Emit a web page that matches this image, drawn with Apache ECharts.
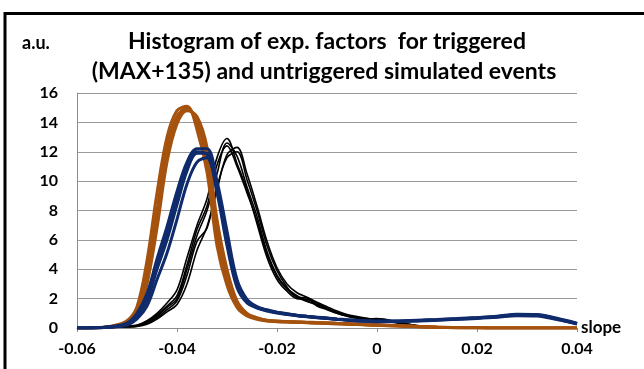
<!DOCTYPE html>
<html>
<head>
<meta charset="utf-8">
<script src="https://cdn.jsdelivr.net/npm/echarts@6/dist/echarts.min.js"></script>
<style>
html,body{margin:0;padding:0;background:#fff;}
#chart{width:644px;height:369px;}
</style>
</head>
<body>
<div id="chart"></div>
<script>
var titleLines = ['Histogram of exp. factors  for triggered', '(MAX+135) and untriggered simulated events'];
var yUnit = 'a.u.';
var xName = 'slope';

var slope = [-0.06, -0.056, -0.053, -0.05, -0.048, -0.046, -0.044, -0.042, -0.04, -0.038, -0.036, -0.034, -0.032, -0.03, -0.028, -0.026, -0.024, -0.022, -0.02, -0.018, -0.016, -0.014, -0.012, -0.01, -0.008, -0.006, -0.004, -0.002, 0, 0.004, 0.008, 0.012, 0.016, 0.02, 0.024, 0.028, 0.032, 0.036, 0.04];

var orange1 = [0,0.02,0.1,0.4,1.1,3.8,8.0,12.3,14.4,15.0,14.0,11.4,6.4,3.4,1.6,0.9,0.65,0.5,0.45,0.42,0.4,0.38,0.35,0.33,0.3,0.28,0.25,0.22,0.2,0.15,0.1,0.05,0.02,0.01,0,0,0,0,0];
var orange2 = [0,0.02,0.07,0.3,0.85,3.0,6.8,11.3,13.9,14.8,14.4,12.3,7.4,4.0,1.85,1.0,0.7,0.53,0.47,0.44,0.42,0.4,0.37,0.35,0.32,0.3,0.27,0.24,0.22,0.17,0.12,0.06,0.03,0.01,0,0,0,0,0];
var orange3 = [0,0.03,0.14,0.5,1.45,4.6,9.2,13.0,14.8,15.1,13.5,10.6,5.6,2.9,1.4,0.82,0.6,0.48,0.43,0.4,0.38,0.36,0.33,0.31,0.28,0.26,0.23,0.2,0.18,0.13,0.08,0.04,0.02,0.01,0,0,0,0,0];
var orange4 = [0,0.02,0.1,0.38,1.0,3.4,7.4,11.8,14.2,14.9,14.2,11.9,6.9,3.7,1.7,0.92,0.66,0.51,0.46,0.42,0.4,0.38,0.35,0.33,0.3,0.28,0.25,0.22,0.2,0.15,0.1,0.05,0.02,0.01,0,0,0,0,0];

var blue1 = [0,0.02,0.08,0.25,0.8,1.9,4.0,6.0,8.4,10.7,11.9,11.9,9.5,6.0,3.0,1.8,1.4,1.2,1.05,0.95,0.85,0.78,0.72,0.66,0.6,0.55,0.5,0.47,0.45,0.46,0.5,0.55,0.62,0.68,0.76,0.88,0.86,0.6,0.3];
var blue2 = [0,0.02,0.1,0.34,1.0,2.35,4.7,6.9,9.3,11.3,12.2,12.2,10.0,6.6,3.3,1.95,1.45,1.24,1.08,0.97,0.87,0.8,0.74,0.68,0.62,0.57,0.53,0.5,0.48,0.48,0.53,0.58,0.64,0.71,0.8,0.94,0.92,0.66,0.33];
var blue3 = [0,0.02,0.06,0.2,0.62,1.5,3.3,5.1,7.4,9.8,11.3,11.6,9.2,5.6,2.75,1.7,1.36,1.16,1.02,0.92,0.83,0.76,0.7,0.64,0.58,0.53,0.48,0.45,0.43,0.44,0.47,0.52,0.59,0.65,0.73,0.84,0.82,0.57,0.27];
var blue4 = [0,0.02,0.08,0.27,0.85,2.05,4.3,6.4,8.8,11.0,12.0,11.8,9.7,6.2,3.1,1.82,1.41,1.2,1.05,0.95,0.85,0.78,0.72,0.66,0.6,0.55,0.51,0.48,0.46,0.46,0.5,0.56,0.62,0.69,0.77,0.9,0.88,0.62,0.3];

var black1 = [0,0.02,0.05,0.1,0.15,0.4,0.8,1.4,2.0,4.0,6.3,8.0,10.5,12.6,11.7,9.6,7.6,5.2,3.6,2.7,2.2,1.85,1.55,1.3,1.05,0.85,0.7,0.6,0.6,0.4,0.15,0.03,0,0,0,0,0,0,0];
var black2 = [0,0.02,0.04,0.07,0.1,0.25,0.6,1.1,1.6,3.0,5.3,6.9,9.4,11.8,12.3,10.5,8.3,5.9,4.1,3.0,2.4,2.1,1.75,1.45,1.15,0.92,0.78,0.66,0.55,0.35,0.12,0.02,0,0,0,0,0,0,0];
var black3 = [0,0.02,0.06,0.12,0.2,0.5,1.0,1.7,2.6,4.8,7.0,8.8,11.6,12.9,11.2,9.4,7.1,4.8,3.3,2.5,2.0,1.95,1.7,1.3,1.0,0.8,0.66,0.64,0.6,0.38,0.14,0.03,0,0,0,0,0,0,0];
var black4 = [0,0.01,0.04,0.08,0.13,0.33,0.7,1.25,1.85,3.6,5.9,6.8,9.6,11.6,12.0,10.1,8.0,5.6,3.9,2.8,2.1,2.05,1.5,1.25,1.0,0.82,0.7,0.62,0.64,0.42,0.16,0.04,0,0,0,0,0,0,0];
var black5 = [0,0.02,0.05,0.11,0.17,0.45,0.9,1.5,2.2,4.3,6.7,8.3,11.1,12.4,11.0,9.2,7.3,5.0,3.5,2.65,2.1,1.8,1.62,1.35,1.05,0.88,0.72,0.6,0.62,0.4,0.15,0.03,0,0,0,0,0,0,0];

var xMin = -0.06, xMax = 0.04, xStep = 0.02;
var yMin = 0, yMax = 16, yStep = 2;

function pairs(ys){ return slope.map(function(x,i){ return [x, ys[i]]; }); }
function mk(name, ys, color, w){
  return {name:name, type:'line', data:pairs(ys), smooth:0.35, symbol:'none',
    lineStyle:{color:color, width:w}, itemStyle:{color:color}, animation:false, silent:true};
}
var ORANGE = '#a4520e', BLUE = '#0f2b6c', BLACK = '#000000';
var series = [
  mk('black1', black1, BLACK, 1.6), mk('black2', black2, BLACK, 1.6), mk('black3', black3, BLACK, 1.6),
  mk('black4', black4, BLACK, 1.6), mk('black5', black5, BLACK, 1.6),
  mk('orange1', orange1, ORANGE, 3), mk('orange2', orange2, ORANGE, 3), mk('orange3', orange3, ORANGE, 3), mk('orange4', orange4, ORANGE, 3),
  mk('blue1', blue1, BLUE, 3), mk('blue2', blue2, BLUE, 3), mk('blue3', blue3, BLUE, 3), mk('blue4', blue4, BLUE, 3)
];

var FONT = 'Lato, "Open Sans", sans-serif';
var chart = echarts.init(document.getElementById('chart'), null, {renderer:'canvas'});
chart.setOption({
  backgroundColor:'#ffffff',
  animation:false,
  grid:{left:77, right:67, top:93, bottom:41},
  graphic:[
    {type:'polyline', shape:{points:[[5,420],[5,13.5],[720,13.5]]}, style:{fill:'none', stroke:'#000', lineWidth:3}, silent:true},
    {type:'text', x:327, y:42, style:{text:titleLines[0], font:'bold 23px '+FONT, fill:'#000', textAlign:'center', textVerticalAlign:'middle'}},
    {type:'text', x:324, y:72, style:{text:titleLines[1], font:'bold 23px '+FONT, fill:'#000', textAlign:'center', textVerticalAlign:'middle'}},
    {type:'text', x:22, y:43, style:{text:yUnit, font:'bold 18px '+FONT, fill:'#000', textAlign:'left', textVerticalAlign:'middle'}}
  ],
  xAxis:{
    type:'value', min:xMin, max:xMax, interval:xStep,
    name:xName, nameLocation:'end', nameGap:4,
    nameTextStyle:{fontFamily:FONT, fontWeight:'bold', fontSize:17, color:'#000', verticalAlign:'middle'},
    axisLine:{show:true, onZero:false, lineStyle:{color:'#8c8c8c', width:1}},
    axisTick:{show:true, inside:false, length:4, lineStyle:{color:'#8c8c8c'}},
    splitLine:{show:false},
    axisLabel:{margin:13, fontFamily:FONT, fontWeight:'bold', fontSize:16, color:'#000',
      formatter:function(v){ var r = Math.round(v*100)/100; if (r === 0) return '0'; return String(r); }}
  },
  yAxis:{
    type:'value', min:yMin, max:yMax, interval:yStep,
    axisLine:{show:true, onZero:false, lineStyle:{color:'#8c8c8c', width:1}},
    axisTick:{show:false},
    splitLine:{show:true, lineStyle:{color:'#9a9a9a', width:1}},
    axisLabel:{margin:19, fontFamily:FONT, fontWeight:'bold', fontSize:16, color:'#000'}
  },
  series:series
});
</script>
</body>
</html>
